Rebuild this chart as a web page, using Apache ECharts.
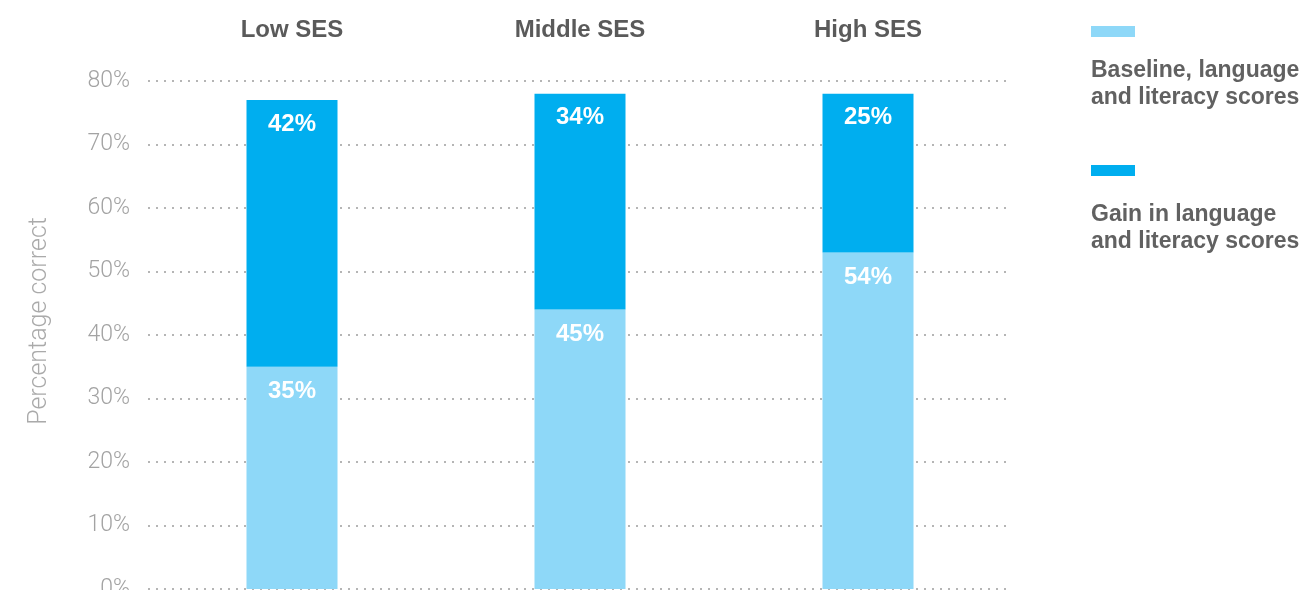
<!DOCTYPE html>
<html>
<head>
<meta charset="utf-8">
<script src="https://cdn.jsdelivr.net/npm/echarts@6/dist/echarts.min.js"></script>
<style>
html,body{margin:0;padding:0;background:#fff;}
#chart{width:1303px;height:590px;}
</style>
</head>
<body>
<div id="chart"></div>
<script>
var categories = ['Low SES', 'Middle SES', 'High SES'];
var baselineValues = [35, 44, 53];
var gainValues = [42, 34, 25];
var baselineLabels = ['35%', '45%', '54%'];
var gainLabels = ['42%', '34%', '25%'];
var seriesNames = ['Baseline, language\nand literacy scores', 'Gain in language\nand literacy scores'];
var yAxisName = 'Percentage correct';

var lightBlue = '#8ed8f8';
var darkBlue = '#00aeef';

var chart = echarts.init(document.getElementById('chart'));
chart.setOption({
  animation: false,
  grid: {left: 148, right: 291, top: 81, bottom: 1, outerBoundsMode: 'none', containLabel: false},
  xAxis: {
    type: 'category',
    position: 'top',
    data: categories,
    axisLine: {show: false},
    axisTick: {show: false},
    axisLabel: {
      margin: 39,
      fontFamily: 'Liberation Sans',
      fontWeight: 'bold',
      fontSize: 24,
      color: '#5a5a5a'
    }
  },
  yAxis: {
    type: 'value',
    min: 0,
    max: 80,
    interval: 10,
    axisLine: {show: false},
    axisTick: {show: false},
    axisLabel: {
      margin: 18,
      fontFamily: 'Roboto',
      fontWeight: 300,
      fontSize: 23,
      color: '#a3a3a3',
      formatter: '{value}%'
    },
    splitLine: {
      lineStyle: {type: [2, 6], width: 2, color: '#b5b5b5'}
    }
  },
  series: [
    {
      name: seriesNames[0],
      type: 'bar',
      stack: 'total',
      barWidth: 91,
      data: baselineValues,
      itemStyle: {color: lightBlue},
      label: {
        show: true,
        position: 'insideTop',
        distance: 13,
        fontFamily: 'Liberation Sans',
        fontWeight: 'bold',
        fontSize: 24,
        color: '#ffffff',
        formatter: function (p) { return baselineLabels[p.dataIndex]; }
      }
    },
    {
      name: seriesNames[1],
      type: 'bar',
      stack: 'total',
      barWidth: 91,
      data: gainValues,
      itemStyle: {color: darkBlue},
      label: {
        show: true,
        position: 'insideTop',
        distance: 12,
        fontFamily: 'Liberation Sans',
        fontWeight: 'bold',
        fontSize: 24,
        color: '#ffffff',
        formatter: function (p) { return gainLabels[p.dataIndex]; }
      }
    }
  ],
  graphic: [
    {type: 'rect', left: 1091, top: 26, shape: {width: 44, height: 11}, style: {fill: lightBlue}},
    {type: 'text', left: 1091, top: 57, style: {text: seriesNames[0], fill: '#616161', font: 'bold 23px "Liberation Sans"', lineHeight: 27}},
    {type: 'rect', left: 1091, top: 165, shape: {width: 44, height: 11}, style: {fill: darkBlue}},
    {type: 'text', left: 1091, top: 201, style: {text: seriesNames[1], fill: '#616161', font: 'bold 23px "Liberation Sans"', lineHeight: 27}},
    {type: 'text', x: 40, y: 321, rotation: Math.PI / 2,
      style: {text: yAxisName, fill: '#aaaaaa', font: '300 25px Roboto', align: 'center', verticalAlign: 'middle'}}
  ]
});
</script>
</body>
</html>
